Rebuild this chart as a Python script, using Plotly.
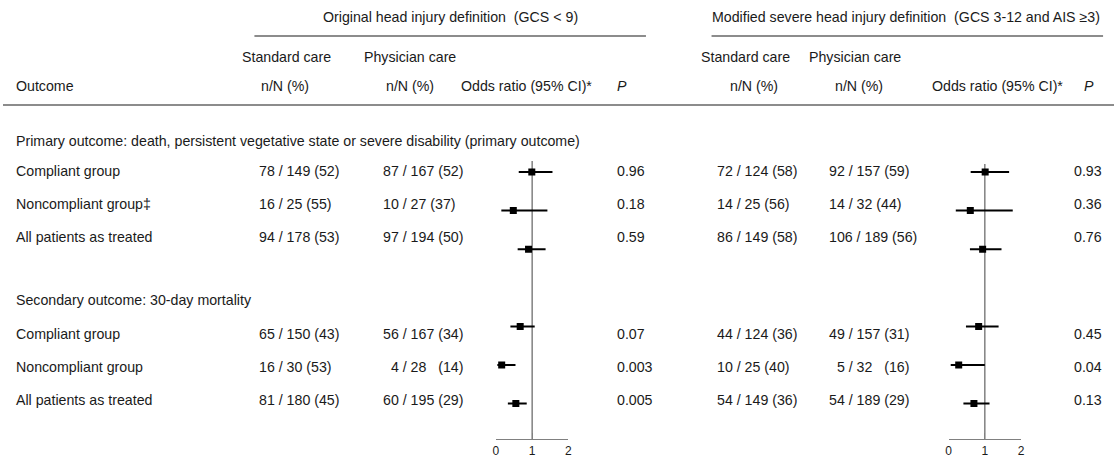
import plotly.graph_objects as go

# ---------------- data ----------------
row_labels = ["Compliant group", "Noncompliant group\u2021", "All patients as treated",
              "Compliant group", "Noncompliant group", "All patients as treated"]
section_titles = ["Primary outcome: death, persistent vegetative state or severe disability (primary outcome)",
                  "Secondary outcome: 30-day mortality"]

orig_standard = ["78 / 149 (52)", "16 / 25 (55)", "94 / 178 (53)",
                 "65 / 150 (43)", "16 / 30 (53)", "81 / 180 (45)"]
orig_physician = ["87 / 167 (52)", "10 / 27 (37)", "97 / 194 (50)",
                  "56 / 167 (34)", "\u00a0\u00a04 / 28 \u00a0\u00a0(14)", "60 / 195 (29)"]
orig_p = ["0.96", "0.18", "0.59", "0.07", "0.003", "0.005"]
orig_or = [0.99, 0.48, 0.90, 0.67, 0.16, 0.55]
orig_lo = [0.63, 0.15, 0.60, 0.40, 0.04, 0.33]
orig_hi = [1.56, 1.42, 1.37, 1.07, 0.54, 0.85]

mod_standard = ["72 / 124 (58)", "14 / 25 (56)", "86 / 149 (58)",
                "44 / 124 (36)", "10 / 25 (40)", "54 / 149 (36)"]
mod_physician = ["92 / 157 (59)", "14 / 32 (44)", "106 / 189 (56)",
                 "49 / 157 (31)", "\u00a0\u00a05 / 32 \u00a0\u00a0(16)", "54 / 189 (29)"]
mod_p = ["0.93", "0.36", "0.76", "0.45", "0.04", "0.13"]
mod_or = [1.01, 0.60, 0.94, 0.83, 0.28, 0.70]
mod_lo = [0.61, 0.20, 0.59, 0.48, 0.06, 0.41]
mod_hi = [1.67, 1.77, 1.46, 1.38, 1.00, 1.13]

axis_ticks = [0, 1, 2]
group_titles = ["Original head injury definition\u00a0 (GCS < 9)",
                "Modified severe head injury definition\u00a0 (GCS 3-12 and AIS \u22653)"]

# ---------------- layout constants ----------------
W, H = 1118, 459
FONT = "Liberation Sans, Arial, sans-serif"
TXT = "#1a1a1a"
FS = 14.2
PAD = 4  # annotation inner padding compensation for left-anchored text
text_rows_y = [171, 204, 237, 334, 367, 400]
section_y = [141, 300]
forest_slot_y0, forest_slot_dy = 172, 38.6
forest_slots = [0, 1, 2, 4, 5, 6]
forest_y = [forest_slot_y0 + forest_slot_dy * s for s in forest_slots]
axis_line_y = 439

fig = go.Figure()

# invisible anchor trace for the main pixel-space axes
fig.add_trace(go.Scatter(x=[0, W], y=[0, H], mode="markers", marker=dict(opacity=0),
                         hoverinfo="skip", showlegend=False, xaxis="x", yaxis="y"))

def forest(xaxis, orv, lo, hi):
    fig.add_trace(go.Scatter(
        x=orv, y=forest_y, mode="markers", xaxis=xaxis, yaxis="y",
        marker=dict(symbol="square", size=7, color="black"),
        error_x=dict(type="data", symmetric=False,
                     array=[h - o for h, o in zip(hi, orv)],
                     arrayminus=[o - l for o, l in zip(orv, lo)],
                     width=0, thickness=2, color="black"),
        showlegend=False, hoverinfo="skip"))

forest("x2", orig_or, orig_lo, orig_hi)
forest("x3", mod_or, mod_lo, mod_hi)

ann = []
def t(x, y, s, anchor="left", italic=False, size=FS):
    if anchor == "left":
        x = x - PAD
    ann.append(dict(x=x, y=y, xref="x", yref="y", text=("<i>%s</i>" % s) if italic else s,
                    showarrow=False, xanchor=anchor, yanchor="middle",
                    font=dict(family=FONT, size=size, color=TXT)))

# headers
t(450, 17, group_titles[0], "center")
t(908.5, 17, group_titles[1], "center")
t(285, 57, "Standard care", "center")
t(410, 57, "Physician care", "center")
t(747, 57, "Standard care", "center")
t(857, 57, "Physician care", "center")
t(15, 86, "Outcome")
t(284, 86, "n/N (%)", "center")
t(410, 86, "n/N (%)", "center")
t(527, 86, "Odds ratio (95% CI)*", "center")
t(620, 86, "P", italic=True)
t(756, 86, "n/N (%)", "center")
t(861, 86, "n/N (%)", "center")
t(1001, 86, "Odds ratio (95% CI)*", "center")
t(1090, 86, "P", italic=True)

for s, y in zip(section_titles, section_y):
    t(15, y, s)

for i, y in enumerate(text_rows_y):
    t(15, y, row_labels[i])
    t(260, y, orig_standard[i])
    t(384, y, orig_physician[i])
    t(620, y, orig_p[i])
    t(720, y, mod_standard[i])
    t(833, y, mod_physician[i])
    t(1080, y, mod_p[i])

shapes = [
    dict(type="line", xref="x", yref="y", x0=253, x1=647, y0=36, y1=36,
         line=dict(color="#666666", width=1.3)),
    dict(type="line", xref="x", yref="y", x0=713, x1=1107, y0=36, y1=36,
         line=dict(color="#666666", width=1.3)),
    dict(type="line", xref="x", yref="y", x0=0, x1=W, y0=105, y1=105,
         line=dict(color="#666666", width=1.5)),
    dict(type="line", xref="x2", yref="y", x0=1, x1=1, y0=161, y1=axis_line_y,
         line=dict(color="#808080", width=1.5), layer="below"),
    dict(type="line", xref="x3", yref="y", x0=1, x1=1, y0=164, y1=axis_line_y,
         line=dict(color="#808080", width=1.5), layer="below"),
]

forest_axis = dict(range=[0, 2], tickvals=axis_ticks, ticktext=[str(v) for v in axis_ticks],
                   anchor="free", position=1 - axis_line_y / H,
                   showline=True, linecolor="#808080", linewidth=1.3,
                   ticks="inside", ticklen=6, tickcolor="#808080", tickwidth=1.3,
                   showgrid=False, zeroline=False, fixedrange=True,
                   tickfont=dict(family=FONT, size=12, color=TXT))

fig.update_layout(
    width=W, height=H, margin=dict(l=0, r=0, t=0, b=0),
    paper_bgcolor="white", plot_bgcolor="white", showlegend=False,
    xaxis=dict(range=[0, W], domain=[0, 1], visible=False, fixedrange=True),
    yaxis=dict(range=[H, 0], domain=[0, 1], visible=False, fixedrange=True),
    xaxis2=dict(domain=[496 / W, 569 / W], **forest_axis),
    xaxis3=dict(domain=[951.5 / W, 1024.5 / W], **forest_axis),
    annotations=ann, shapes=shapes,
)

fig.write_html("out.html")
